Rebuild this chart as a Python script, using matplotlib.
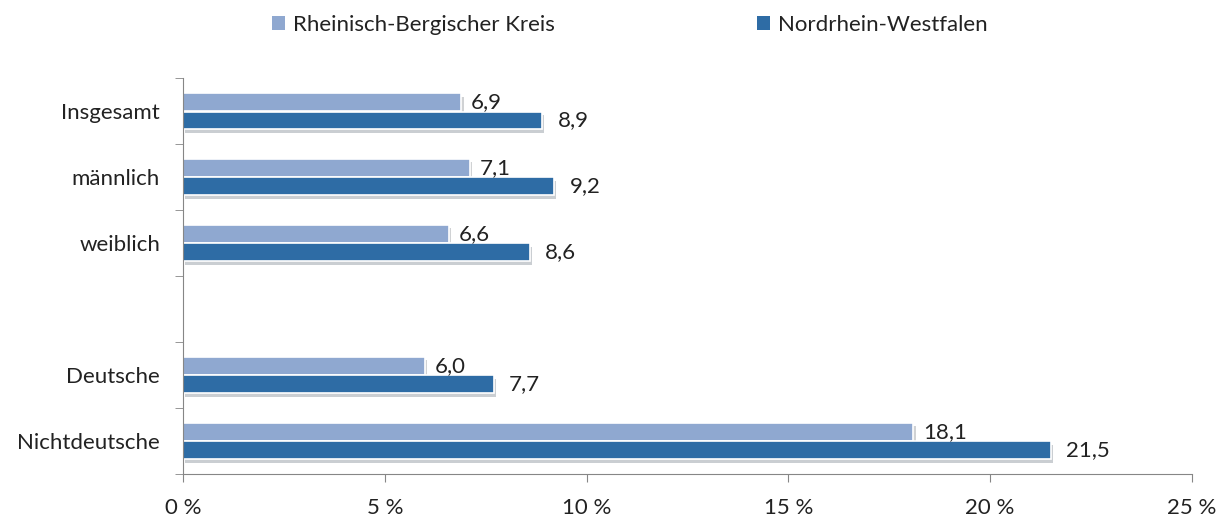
import matplotlib.pyplot as plt
import matplotlib.patheffects as pe
from matplotlib.patches import Patch
import numpy as np

plt.rcParams['font.family'] = ['Lato', 'DejaVu Sans']

categories = ['Insgesamt', 'männlich', 'weiblich', '', 'Deutsche', 'Nichtdeutsche']
rbk = [6.9, 7.1, 6.6, None, 6.0, 18.1]
nrw = [8.9, 9.2, 8.6, None, 7.7, 21.5]
series_names = ['Rheinisch-Bergischer Kreis', 'Nordrhein-Westfalen']
xticks = [0, 5, 10, 15, 20, 25]

c_light = '#8FA8D0'
c_dark = '#2E6CA5'
txt = '#222222'
fs = 16

fig = plt.figure(figsize=(12.2, 5.18), dpi=100)
ax = fig.add_axes([0.15, 0.085, 0.827, 0.764])

y = np.arange(len(categories))
h = 0.27
shadow = [pe.SimplePatchShadow(offset=(1.5, -2.5), alpha=0.22), pe.Normal()]

for vals, off, col, gap in [(rbk, -0.14, c_light, 7), (nrw, 0.14, c_dark, 11)]:
    yy = [yi + off for yi, v in zip(y, vals) if v is not None]
    vv = [v for v in vals if v is not None]
    bars = ax.barh(yy, vv, height=h, color=col, edgecolor='white', linewidth=1.2)
    for b in bars:
        b.set_path_effects(shadow)
    for yi, v in zip(yy, vv):
        ax.annotate(f'{v:.1f}'.replace('.', ','), (v, yi), xytext=(gap, 0),
                    textcoords='offset points', va='center', ha='left', fontsize=fs, color=txt)

ax.set_ylim(len(categories) - 0.5, -0.5)
ax.set_xlim(0, 25)
ax.set_yticks(y)
ax.set_yticklabels(categories, fontsize=fs, color=txt)
ax.set_yticks(np.arange(-0.5, len(categories)), minor=True)
ax.tick_params(axis='y', which='major', length=0, pad=16.5)
ax.tick_params(axis='y', which='minor', length=5.5, color='#868686', direction='out')
ax.set_xticks(xticks)
ax.set_xticklabels([f'{t} %' for t in xticks], fontsize=fs, color=txt)
ax.tick_params(axis='x', length=5.5, direction='out', color='#868686', pad=12)

for s in ['top', 'right']:
    ax.spines[s].set_visible(False)
for s in ['left', 'bottom']:
    ax.spines[s].set_color('#868686')

for name, col, xpos in [(series_names[0], c_light, 272 / 1220), (series_names[1], c_dark, 757 / 1220)]:
    leg = fig.legend(handles=[Patch(facecolor=col, label=name)], loc='center left',
                     bbox_to_anchor=(xpos, 1 - 25 / 518), frameon=False, fontsize=fs,
                     handlelength=0.6, handleheight=0.6, handletextpad=0.35,
                     borderpad=0, borderaxespad=0)
    for t in leg.get_texts():
        t.set_color(txt)

fig.savefig('out.png', dpi=100)
